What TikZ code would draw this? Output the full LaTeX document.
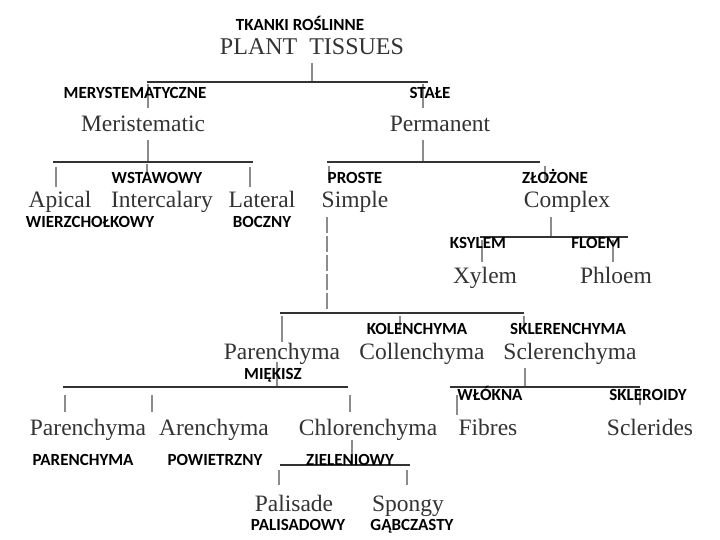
\documentclass[tikz,border=0pt]{standalone}
\usepackage{fontspec}
\setmainfont{Liberation Serif}
\newfontfamily\pl{Carlito}
\begin{document}
\begin{tikzpicture}[x=1pt,y=-1pt,
  en/.style={font=\fontsize{23.5}{25}\selectfont, text=black!80, inner sep=0, text height=15pt, text depth=0pt},
  pn/.style={font=\pl\bfseries\fontsize{17}{19}\selectfont, inner sep=0, text height=11.5pt, text depth=0pt},
  vl/.style={draw=black!45, line width=1.2pt},
  hl/.style={draw=black!80, line width=1.8pt}]
\useasboundingbox[fill=white] (0,0) rectangle (720,540);
% English nodes
\node[en,font=\fontsize{24}{25}\selectfont] (root) at (312,47) {PLANT\ \ TISSUES};
\node[en] (mer) at (143,124) {Meristematic};
\node[en] (per) at (440,124) {Permanent};
\node[en] (api) at (60,200) {Apical};
\node[en] (int) at (162,200) {Intercalary};
\node[en] (lat) at (262,200) {Lateral};
\node[en] (sim) at (355,200) {Simple};
\node[en] (com) at (567,200) {Complex};
\node[en] (xyl) at (485,276) {Xylem};
\node[en] (phl) at (616,276) {Phloem};
\node[en] (par) at (282,352) {Parenchyma};
\node[en] (col) at (422,352) {Collenchyma};
\node[en] (scl) at (570,352) {Sclerenchyma};
\node[en] (par2) at (88,428) {Parenchyma};
\node[en] (are) at (214,428) {Arenchyma};
\node[en] (chl) at (368,428) {Chlorenchyma};
\node[en] (fib) at (488,428) {Fibres};
\node[en] (sde) at (650,428) {Sclerides};
\node[en] (pal) at (294,504) {Palisade};
\node[en] (spo) at (408,504) {Spongy};
% lines
\coordinate (r0) at (312,63); \coordinate (r1) at (312,82);
\coordinate (h1a) at (147,82); \coordinate (h1b) at (428,82);
\draw[vl] (r0) -- (r1);
\draw[vl] (148,84) -- (148,108); \draw[vl] (423,84) -- (423,108);
\draw[hl] (h1a) -- (h1b);
\draw[vl] (148,140) -- (148,162); \draw[hl] (53,162) -- (253,162);
\draw[vl] (56,167) -- (56,187); \draw[vl] (147,164) -- (147,173); \draw[vl] (250,167) -- (250,187);
\draw[vl] (423,140) -- (423,162); \draw[hl] (327,162) -- (540,162);
\draw[vl] (329,166) -- (329,180); \draw[vl] (545,166) -- (545,180);
\draw[vl,dash pattern=on 16pt off 3pt] (327,217) -- (327,313);
\draw[vl] (551,217) -- (551,237); \draw[hl,line width=1.3pt] (480,237) -- (628,237);
\draw[vl] (482,240) -- (482,262); \draw[vl] (613,240) -- (613,262);
\draw[hl,line width=1.3pt] (280,313) -- (524,313);
\draw[vl] (282,316) -- (282,342); \draw[vl] (400,316) -- (400,330); \draw[vl] (524,316) -- (524,330);
\draw[vl] (277,362) -- (277,387); \draw[hl] (63,387) -- (348,387);
\draw[vl] (65,395) -- (65,412); \draw[vl] (152,395) -- (152,412); \draw[vl] (350,395) -- (350,412);
\draw[vl] (525,368) -- (525,387); \draw[hl] (450,387) -- (640,387);
\draw[vl] (457,395) -- (457,415); \draw[vl] (640,390) -- (640,405);
\draw[vl] (352,440) -- (352,465); \draw[hl,line width=1.3pt] (280,465) -- (410,465);
\draw[vl] (279,470) -- (279,485); \draw[vl] (407,470) -- (407,485);
% Polish labels
\node[pn] (l1) at (300,25) {TKANKI ROŚLINNE};
\node[pn] (l2) at (135,93) {MERYSTEMATYCZNE};
\node[pn] (l3) at (430,93) {STAŁE};
\node[pn] (l4) at (157,178) {WSTAWOWY};
\node[pn] (l5) at (355,178) {PROSTE};
\node[pn] (l6) at (555,178) {ZŁOŻONE};
\node[pn] (l7) at (90,222) {WIERZCHOŁKOWY};
\node[pn] (l8) at (262,222) {BOCZNY};
\node[pn] (l9) at (478,243) {KSYLEM};
\node[pn] (l10) at (596,243) {FLOEM};
\node[pn] (l11) at (417,329) {KOLENCHYMA};
\node[pn] (l12) at (568,329) {SKLERENCHYMA};
\node[pn] (l13) at (273,374) {MIĘKISZ};
\node[pn] (l14) at (490,395) {WŁÓKNA};
\node[pn] (l15) at (648,395) {SKLEROIDY};
\node[pn] (l16) at (83,460) {PARENCHYMA};
\node[pn] (l17) at (215,460) {POWIETRZNY};
\node[pn] (l18) at (350,460) {ZIELENIOWY};
\node[pn] (l19) at (298,525) {PALISADOWY};
\node[pn] (l20) at (412,525) {GĄBCZASTY};
\end{tikzpicture}
\end{document}
